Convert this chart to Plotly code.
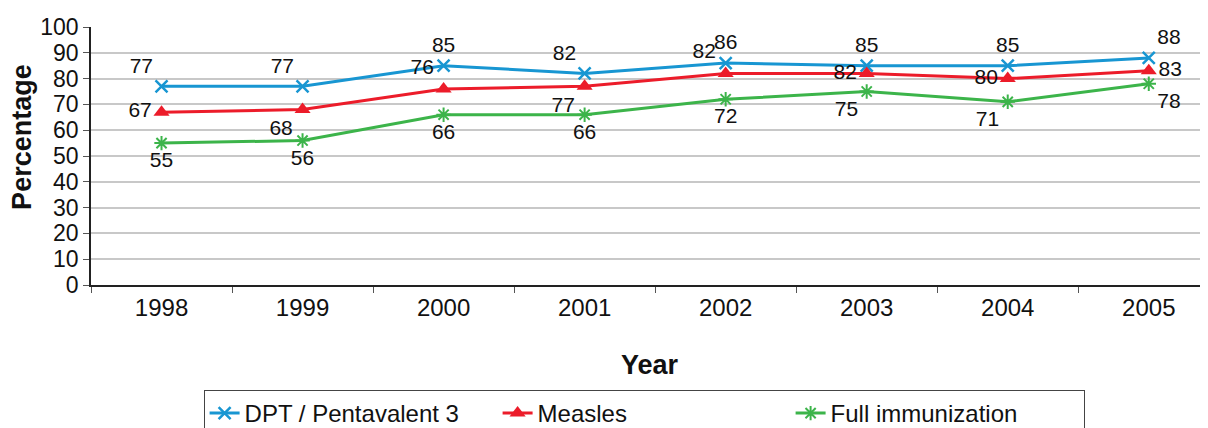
import plotly.graph_objects as go

years = ["1998", "1999", "2000", "2001", "2002", "2003", "2004", "2005"]
dpt = [77, 77, 85, 82, 86, 85, 85, 88]
measles = [67, 68, 76, 77, 82, 82, 80, 83]
full_imm = [55, 56, 66, 66, 72, 75, 71, 78]
y_ticks = [0, 10, 20, 30, 40, 50, 60, 70, 80, 90, 100]

dpt_pos = ["top left", "top left", "top center", "top left", "top center", "top center", "top center", "top right"]
mea_pos = ["middle left", "bottom left", "top left", "bottom left", "top left", "middle left", "middle left", "middle right"]
full_pos = ["bottom center", "bottom center", "bottom center", "bottom center", "bottom center", "bottom left", "bottom left", "bottom right"]

FONT = "Liberation Sans, Arial, sans-serif"
LBL = dict(family=FONT, size=21, color="#111111")

fig = go.Figure()
fig.add_trace(go.Scatter(
    x=years, y=dpt, name="DPT / Pentavalent 3", mode="lines+markers+text",
    line=dict(color="#1896D2", width=3),
    marker=dict(symbol="x-thin-open", size=12, line=dict(color="#1896D2", width=2.5)),
    text=[str(v) for v in dpt], textposition=dpt_pos, textfont=LBL, cliponaxis=False))
fig.add_trace(go.Scatter(
    x=years, y=measles, name="Measles", mode="lines+markers+text",
    line=dict(color="#EC1C2A", width=3),
    marker=dict(symbol="triangle-up", size=14, color="#EC1C2A"),
    text=[str(v) for v in measles], textposition=mea_pos, textfont=LBL, cliponaxis=False))
fig.add_trace(go.Scatter(
    x=years, y=full_imm, name="Full immunization", mode="lines+markers+text",
    line=dict(color="#3CB44A", width=3),
    marker=dict(symbol="asterisk-open", size=12, line=dict(color="#3CB44A", width=2)),
    text=[str(v) for v in full_imm], textposition=full_pos, textfont=LBL, cliponaxis=False))

fig.update_layout(
    width=1200, height=420,
    margin=dict(l=83, r=0, t=19, b=143, autoexpand=False),
    paper_bgcolor="white", plot_bgcolor="white",
    font=dict(family=FONT, color="#111111"),
    showlegend=True,
    legend=dict(orientation="h", xref="container", yref="container",
                x=0.163, y=0.0905, xanchor="left", yanchor="top",
                bordercolor="#444444", borderwidth=1,
                font=dict(family=FONT, size=24, color="#111111"),
                entrywidth=248, entrywidthmode="pixels", traceorder="normal"),
    xaxis=dict(type="category", range=[-0.5, 7.42], showgrid=False, automargin=False,
               showline=True, linecolor="#222222", linewidth=1.5,
               ticks="outside", tickson="boundaries", ticklen=6, tickcolor="#555555",
               tickfont=dict(family=FONT, size=24, color="#111111")),
    yaxis=dict(range=[0, 100], tickvals=y_ticks, showgrid=True, gridcolor="#C8C8C8", gridwidth=1.5,
               showline=True, linecolor="#222222", linewidth=1.5, automargin=False,
               ticks="outside", ticklen=6, tickcolor="#555555",
               tickfont=dict(family=FONT, size=23, color="#111111"), zeroline=False),
    annotations=[
        dict(text="<b>Percentage</b>", xref="paper", yref="paper", x=-0.0618, y=0.574,
             xanchor="center", yanchor="middle", textangle=-90, showarrow=False,
             font=dict(family=FONT, size=27, color="#111111")),
        dict(text="<b>Year</b>", xref="paper", yref="paper", x=0.5, y=-0.31,
             xanchor="center", yanchor="middle", showarrow=False,
             font=dict(family=FONT, size=27, color="#111111")),
    ],
)

fig.write_html("out.html")
